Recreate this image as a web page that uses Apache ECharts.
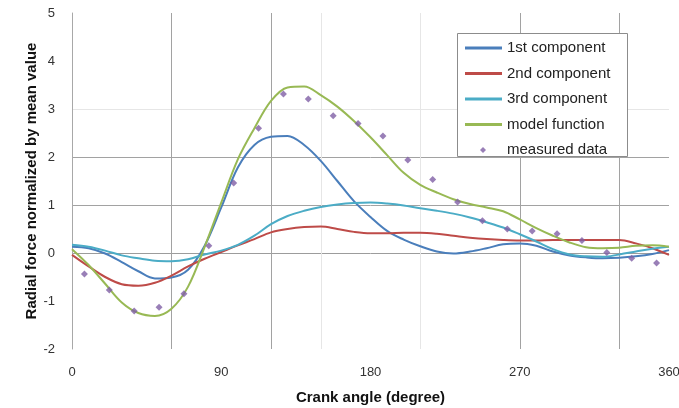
<!DOCTYPE html>
<html>
<head>
<meta charset="utf-8">
<title>Radial force components</title>
<script src="https://cdn.jsdelivr.net/npm/echarts@6/dist/echarts.min.js"></script>
<style>
  html, body { margin: 0; padding: 0; background: #fff; }
  #chart { width: 679px; height: 408px; }
</style>
</head>
<body>
<div id="chart"></div>
<script>
// Crank angle samples (degrees) for the fitted curves
const angles = [0, 10, 20, 30, 40, 50, 60, 70, 80, 90, 100, 110, 120, 130, 140, 150, 160, 170, 180,
  190, 200, 210, 220, 230, 240, 250, 260, 270, 280, 290, 300, 310, 320, 330, 340, 350, 360];

const firstComponent = [0.13, 0.10, -0.01, -0.19, -0.38, -0.53, -0.51, -0.35, 0.15, 0.95, 1.78, 2.25,
  2.42, 2.44, 2.25, 1.92, 1.50, 1.08, 0.75, 0.46, 0.28, 0.14, 0.03, -0.01, 0.03, 0.10, 0.18, 0.20,
  0.15, 0.03, -0.05, -0.09, -0.11, -0.10, -0.07, -0.02, 0.06];

const secondComponent = [-0.04, -0.28, -0.50, -0.65, -0.68, -0.62, -0.47, -0.28, -0.12, 0.02, 0.16,
  0.29, 0.43, 0.50, 0.54, 0.55, 0.50, 0.44, 0.41, 0.41, 0.42, 0.42, 0.40, 0.36, 0.32, 0.29, 0.27,
  0.26, 0.26, 0.27, 0.27, 0.27, 0.27, 0.27, 0.20, 0.10, -0.04];

const thirdComponent = [0.17, 0.13, 0.05, -0.05, -0.11, -0.16, -0.17, -0.13, -0.03, 0.05, 0.17, 0.36,
  0.60, 0.77, 0.88, 0.96, 1.01, 1.04, 1.05, 1.03, 0.99, 0.93, 0.88, 0.82, 0.74, 0.64, 0.53, 0.39,
  0.24, 0.08, -0.03, -0.07, -0.08, -0.03, 0.03, 0.09, 0.13];

const modelFunction = [0.08, -0.25, -0.64, -1.03, -1.25, -1.31, -1.16, -0.70, 0.13, 1.05, 1.95, 2.60,
  3.17, 3.45, 3.47, 3.29, 3.05, 2.75, 2.41, 2.04, 1.67, 1.42, 1.26, 1.12, 1.02, 0.95, 0.87, 0.70,
  0.52, 0.36, 0.22, 0.12, 0.10, 0.11, 0.15, 0.16, 0.13];

// Measured points
const measuredAngles = [7.5, 22.5, 37.5, 52.5, 67.5, 82.5, 97.5, 112.5, 127.5, 142.5, 157.5, 172.5,
  187.5, 202.5, 217.5, 232.5, 247.5, 262.5, 277.5, 292.5, 307.5, 322.5, 337.5, 352.5];
const measuredData = [-0.44, -0.77, -1.21, -1.13, -0.85, 0.15, 1.46, 2.60, 3.31, 3.21, 2.86, 2.70,
  2.44, 1.94, 1.53, 1.06, 0.67, 0.50, 0.46, 0.40, 0.26, 0.01, -0.11, -0.21];

const xTickLabels = [0, 90, 180, 270, 360];
const seriesNames = ['1st component', '2nd component', '3rd component', 'model function', 'measured data'];

const font = "'Liberation Sans', Arial, sans-serif";
const dark = '#a2a2a2', faint = '#e6e6e6', off = 'rgba(0,0,0,0)';

function pairs(xs, ys) { return xs.map((x, i) => [x, ys[i]]); }

function curve(name, values, color) {
  return {
    name: name, type: 'line', data: pairs(angles, values),
    symbol: 'none', smooth: 0.35, z: 2,
    lineStyle: { color: color, width: 2 }, itemStyle: { color: color }
  };
}

const chart = echarts.init(document.getElementById('chart'), null, { renderer: 'canvas' });
chart.setOption({
  animation: false,
  backgroundColor: '#fff',
  textStyle: { fontFamily: font },
  grid: { left: 72, right: 10, top: 13, bottom: 59, containLabel: false, outerBoundsMode: 'none' },
  xAxis: {
    type: 'value', min: 0, max: 360, interval: 30,
    name: 'Crank angle (degree)', nameLocation: 'middle', nameGap: 41,
    nameTextStyle: { fontFamily: font, fontSize: 15, fontWeight: 'bold', color: '#111' },
    axisLine: { show: false }, axisTick: { show: false },
    axisLabel: {
      margin: 17, fontSize: 13, color: '#333', fontFamily: font,
      formatter: v => (xTickLabels.indexOf(v) >= 0 ? String(v) : '')
    },
    splitLine: {
      show: true,
      lineStyle: { width: 1, color: [off, off, dark, off, dark, faint, off, faint, off, dark, off, dark, off] }
    }
  },
  yAxis: {
    type: 'value', min: -2, max: 5, interval: 1,
    name: 'Radial force normalized by mean value', nameLocation: 'middle', nameGap: 33, nameRotate: 90,
    nameMoveOverlap: false,
    nameTextStyle: { fontFamily: font, fontSize: 15, fontWeight: 'bold', color: '#111' },
    axisLine: { show: true, onZero: false, lineStyle: { color: '#a8a8a8', width: 1 } },
    axisTick: { show: false },
    axisLabel: { margin: 17, fontSize: 13, color: '#333', fontFamily: font },
    splitLine: {
      show: true,
      lineStyle: { width: 1, color: [off, off, '#9c9c9c', dark, dark, faint, off, off] }
    }
  },
  legend: [
    {
      data: seriesNames.slice(0, 4), orient: 'vertical', left: 465, top: 40.5,
      icon: 'rect', itemWidth: 37, itemHeight: 3, itemGap: 10.5, padding: 0, z: 10,
      textStyle: { fontFamily: font, fontSize: 15, color: '#222' }
    },
    {
      data: [seriesNames[4]], orient: 'vertical', left: 480, top: 142.5,
      icon: 'diamond', itemWidth: 6, itemHeight: 6, padding: 0, z: 10,
      textStyle: { fontFamily: font, fontSize: 15, color: '#222', padding: [0, 0, 0, 16] }
    }
  ],
  graphic: [{
    type: 'rect', z: 5, silent: true,
    shape: { x: 457.5, y: 33.5, width: 170, height: 123 },
    style: { fill: '#fff', stroke: '#8c8c8c', lineWidth: 1 }
  }],
  series: [
    curve(seriesNames[0], firstComponent, '#4a7ebb'),
    curve(seriesNames[1], secondComponent, '#be4b48'),
    curve(seriesNames[2], thirdComponent, '#4bacc6'),
    curve(seriesNames[3], modelFunction, '#98b954'),
    {
      name: seriesNames[4], type: 'scatter', data: pairs(measuredAngles, measuredData),
      symbol: 'diamond', symbolSize: 7, z: 3,
      itemStyle: { color: '#7f5fa5' }
    }
  ]
});
</script>
</body>
</html>
